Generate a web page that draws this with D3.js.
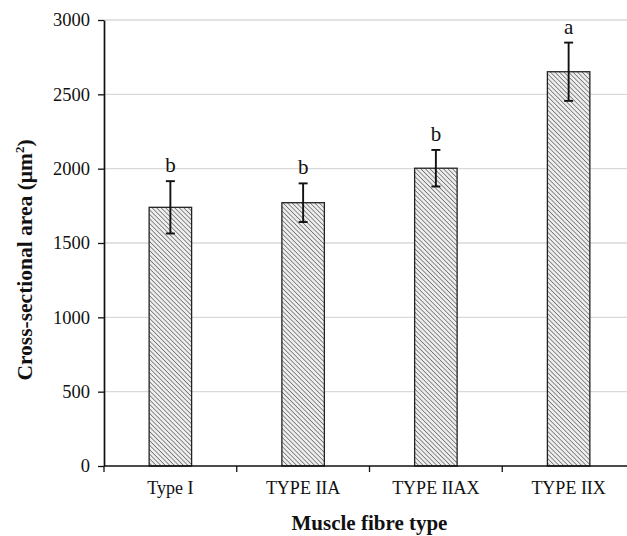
<!DOCTYPE html>
<html>
<head>
<meta charset="utf-8">
<script src="https://cdn.jsdelivr.net/npm/d3@7"></script>
<style>
  body { margin: 0; background: #fff; }
  text { font-family: "Liberation Serif", "Times New Roman", serif; }
</style>
</head>
<body>
<div id="chart"></div>
<script>
// data
var fibreTypes = ["Type I", "TYPE IIA", "TYPE IIAX", "TYPE IIX"];
var meanArea = [1740, 1771, 2003, 2652];
var errArea = [176, 130, 123, 196];
var sigLetters = ["b", "b", "b", "a"];
var yTicks = [0, 500, 1000, 1500, 2000, 2500, 3000];

var W = 627, H = 536;
var margin = { top: 20, right: -8, bottom: 70, left: 104 };
var width = W - margin.left - margin.right,
    height = H - margin.top - margin.bottom;

var svg = d3.select("#chart")
    .append("svg")
    .attr("width", W)
    .attr("height", H);

// diagonal hatch for the bars
var defs = svg.append("defs");
var pat = defs.append("pattern")
    .attr("id", "hatch")
    .attr("patternUnits", "userSpaceOnUse")
    .attr("width", 3.2)
    .attr("height", 3.2)
    .attr("patternTransform", "rotate(-45)");
pat.append("rect").attr("width", 3.2).attr("height", 3.2).attr("fill", "#eeeeee");
pat.append("line")
    .attr("x1", 0).attr("y1", 0).attr("x2", 0).attr("y2", 3.2)
    .attr("stroke", "#4a4a4a").attr("stroke-width", 1.2);

var g = svg.append("g")
    .attr("transform", "translate(" + margin.left + "," + margin.top + ")");

var x = d3.scaleBand().domain(fibreTypes).range([0, width]).paddingInner(0.68).paddingOuter(0.34);
var y = d3.scaleLinear().domain([0, 3000]).range([height, 0]);

// grid lines
g.append("g")
    .selectAll("line")
    .data(yTicks.slice(1))
    .enter()
    .append("line")
    .attr("x1", 0)
    .attr("x2", W - margin.left)
    .attr("y1", function (d) { return y(d); })
    .attr("y2", function (d) { return y(d); })
    .attr("stroke", "#d9d9d9")
    .attr("stroke-width", 1.3);

// bars
g.append("g")
    .selectAll("rect")
    .data(meanArea)
    .enter()
    .append("rect")
    .attr("x", function (d, i) { return x(fibreTypes[i]); })
    .attr("y", function (d) { return y(d); })
    .attr("width", x.bandwidth())
    .attr("height", function (d) { return height - y(d); })
    .attr("fill", "url(#hatch)")
    .attr("stroke", "#222")
    .attr("stroke-width", 1.3);

// error bars
var eb = g.append("g").attr("stroke", "#111").attr("stroke-width", 1.9);
meanArea.forEach(function (d, i) {
    var cx = x(fibreTypes[i]) + x.bandwidth() / 2;
    eb.append("line").attr("x1", cx).attr("x2", cx)
        .attr("y1", y(d - errArea[i])).attr("y2", y(d + errArea[i]));
    [d - errArea[i], d + errArea[i]].forEach(function (v) {
        eb.append("line").attr("x1", cx - 4.5).attr("x2", cx + 4.5)
            .attr("y1", y(v)).attr("y2", y(v));
    });
});

// significance letters
g.append("g")
    .selectAll("text")
    .data(sigLetters)
    .enter()
    .append("text")
    .attr("x", function (d, i) { return x(fibreTypes[i]) + x.bandwidth() / 2; })
    .attr("y", function (d, i) { return y(meanArea[i] + errArea[i]) - 9; })
    .attr("text-anchor", "middle")
    .style("font-size", "21px")
    .attr("fill", "#111")
    .text(function (d) { return d; });

// Y axis
var yAxis = g.append("g")
    .call(d3.axisLeft(y).tickValues(yTicks).tickFormat(d3.format("d"))
        .tickSize(6).tickSizeOuter(0).tickPadding(8));
yAxis.selectAll("text").style("font-size", "18.5px").attr("fill", "#111");
yAxis.selectAll("line").attr("stroke", "#111").attr("stroke-width", 1.3);
yAxis.select(".domain").attr("stroke", "#111").attr("stroke-width", 1.7);

// X axis (ticks on the band edges, like the original)
var xAxis = g.append("g").attr("transform", "translate(0," + height + ")");
xAxis.append("line")
    .attr("x1", 0).attr("x2", W - margin.left)
    .attr("stroke", "#111").attr("stroke-width", 1.7);
xAxis.selectAll(".edge")
    .data(fibreTypes)
    .enter()
    .append("line")
    .attr("class", "edge")
    .attr("x1", function (d) { return x(d) - x.step() * x.paddingOuter(); })
    .attr("x2", function (d) { return x(d) - x.step() * x.paddingOuter(); })
    .attr("y1", 0).attr("y2", 6)
    .attr("stroke", "#111").attr("stroke-width", 1.3);
xAxis.selectAll(".lbl")
    .data(fibreTypes)
    .enter()
    .append("text")
    .attr("class", "lbl")
    .attr("x", function (d) { return x(d) + x.bandwidth() / 2; })
    .attr("y", 28)
    .attr("text-anchor", "middle")
    .style("font-size", "18px")
    .attr("fill", "#111")
    .text(function (d) { return d; });

// axis titles
svg.append("text")
    .attr("x", margin.left + width / 2)
    .attr("y", 530)
    .attr("text-anchor", "middle")
    .style("font-size", "21px")
    .style("font-weight", "bold")
    .attr("fill", "#111")
    .text("Muscle fibre type");

var yt = svg.append("text")
    .attr("transform", "translate(32," + 260 + ") rotate(-90)")
    .attr("text-anchor", "middle")
    .style("font-size", "21.5px")
    .style("font-weight", "bold")
    .attr("fill", "#111");
yt.append("tspan").text("Cross-sectional area (μm");
yt.append("tspan").attr("dy", -8).style("font-size", "13px").text("2");
yt.append("tspan").attr("dy", 8).text(")");
</script>
</body>
</html>
